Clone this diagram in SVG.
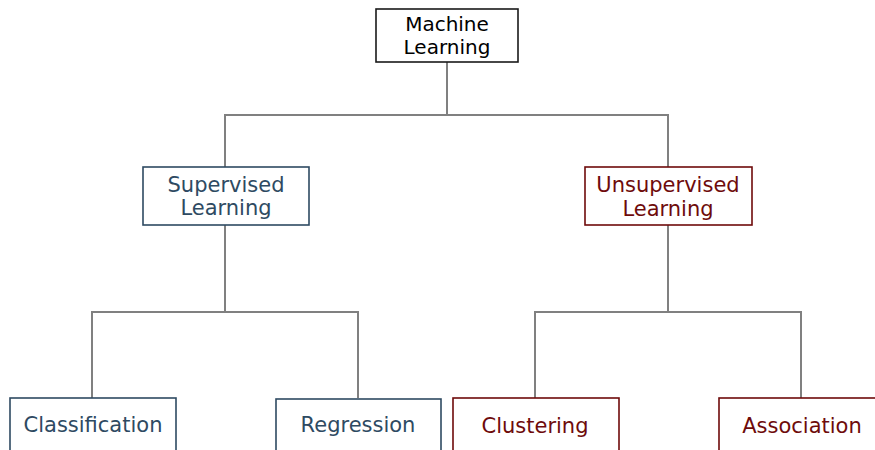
<svg xmlns="http://www.w3.org/2000/svg" width="875" height="450" viewBox="0 0 875 450">
  <style>
    .box { fill: #ffffff; stroke-width: 1.6; }
    .root rect { stroke: #1a1a1a; }
    .root text { fill: #000000; }
    .sup rect { stroke: #2e4a62; }
    .sup text { fill: #2e4a62; }
    .uns rect { stroke: #6e0b0b; }
    .uns text { fill: #6e0b0b; }
    text { font-family: "DejaVu Sans", sans-serif; font-size: 20px; text-anchor: middle; }
    text.mid, text.leaf { font-size: 21px; }
    .links path { fill: none; stroke: #808080; stroke-width: 2; }
  </style>
  <rect width="875" height="450" fill="#ffffff"/>
  <g class="links">
    <path d="M447 62 V115 M225 167 V115 H668 V167"/>
    <path d="M225 225 V312 M92 398 V312 H358 V398"/>
    <path d="M668 225 V312 M535 398 V312 H801 V398"/>
  </g>
  <g id="machine-learning" class="root">
    <rect class="box" x="376" y="9" width="142" height="53"/>
    <text x="447" y="31">Machine</text>
    <text x="447" y="54">Learning</text>
  </g>
  <g id="supervised" class="sup">
    <rect class="box" x="143" y="167" width="166" height="58"/>
    <text class="mid" x="226" y="192">Supervised</text>
    <text class="mid" x="226" y="215">Learning</text>
  </g>
  <g id="unsupervised" class="uns">
    <rect class="box" x="585" y="167" width="167" height="58"/>
    <text class="mid" x="668" y="192">Unsupervised</text>
    <text class="mid" x="668" y="216">Learning</text>
  </g>
  <g id="classification" class="sup">
    <rect class="box" x="10" y="398" width="166" height="60"/>
    <text class="leaf" x="93" y="432">Classification</text>
  </g>
  <g id="regression" class="sup">
    <rect class="box" x="276" y="399" width="165" height="60"/>
    <text class="leaf" x="358" y="432">Regression</text>
  </g>
  <g id="clustering" class="uns">
    <rect class="box" x="453" y="398" width="166" height="60"/>
    <text class="leaf" x="535" y="433">Clustering</text>
  </g>
  <g id="association" class="uns">
    <rect class="box" x="719" y="398" width="166" height="60"/>
    <text class="leaf" x="802" y="433">Association</text>
  </g>
</svg>
